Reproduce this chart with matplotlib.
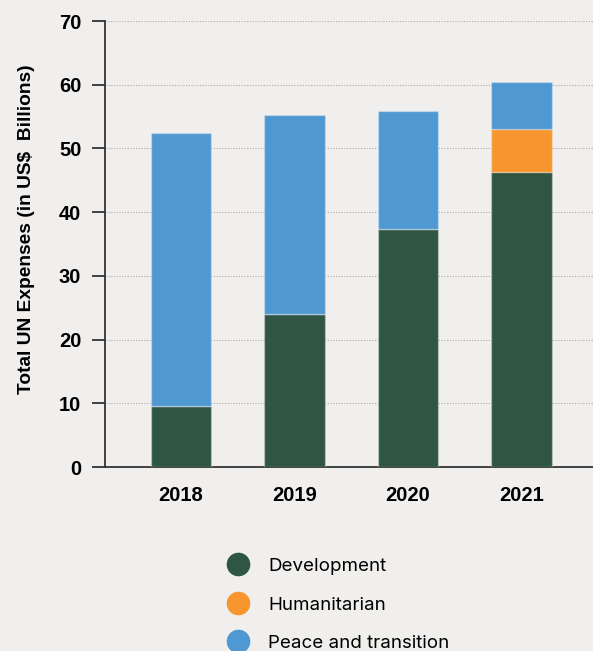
import matplotlib.pyplot as plt
from matplotlib.lines import Line2D

years = ['2018', '2019', '2020', '2021']
development = [9.6, 24.0, 37.4, 46.3]
humanitarian = [0, 0, 0, 6.7]
peace = [42.8, 31.3, 18.5, 7.4]

labels = ['Development', 'Humanitarian', 'Peace and transition']
colors = ['#2f5543', '#f7962e', '#4f98d2']
bg = '#f0efed'

bold_font = ['Liberation Sans', 'DejaVu Sans']
plt.rcParams['font.family'] = ['Inter', 'DejaVu Sans']

fig = plt.figure(figsize=(5.93, 6.51), dpi=100, facecolor=bg)
ax = fig.add_axes([0.177, 0.2826, 0.823, 0.6851], facecolor=bg)

x = list(range(len(years)))
w = 0.53
edge = (1, 1, 1, 0.3)
ax.bar(x, development, w, color=colors[0], edgecolor=edge, linewidth=1, zorder=3)
ax.bar(x, humanitarian, w, bottom=development, color=colors[1], edgecolor=edge, linewidth=1, zorder=3)
bottom2 = [d + h for d, h in zip(development, humanitarian)]
ax.bar(x, peace, w, bottom=bottom2, color=colors[2], edgecolor=edge, linewidth=1, zorder=3)

ax.set_xlim(-0.67, 3.63)
ax.set_ylim(0, 70)
ax.set_yticks(range(0, 71, 10))
ax.set_xticks(x)
ax.set_xticklabels(years, fontsize=14.5, fontweight='bold', family=bold_font)
for t in ax.get_yticklabels():
    t.set_fontsize(14.5)
    t.set_fontweight('bold')
    t.set_family(bold_font)

ax.grid(axis='y', linestyle=(0, (1, 1.5)), color='#aaaaaa', linewidth=0.8, zorder=0)
for s in ['top', 'right']:
    ax.spines[s].set_visible(False)
ax.spines['left'].set_color('#333333')
ax.spines['left'].set_linewidth(1.3)
ax.spines['bottom'].set_color('#333333')
ax.spines['bottom'].set_linewidth(1.3)
ax.tick_params(axis='y', length=9.5, width=1.3, color='#333333', pad=7.5)
ax.tick_params(axis='x', length=0, pad=14)

ax.set_ylabel('Total UN Expenses (in US$  Billions)', fontsize=13.8, fontweight='bold',
              family=bold_font)
ax.yaxis.set_label_coords(-0.144, 0.534)

handles = [Line2D([], [], marker='o', linestyle='', markersize=16, color=c) for c in colors]
fig.legend(handles, labels, loc='upper left', bbox_to_anchor=(0.371, 0.143), frameon=False,
           fontsize=13.5, labelspacing=1.14, handlelength=1.93, handletextpad=0.63,
           borderpad=0, borderaxespad=0)

fig.savefig('out.png', dpi=100, facecolor=bg)
